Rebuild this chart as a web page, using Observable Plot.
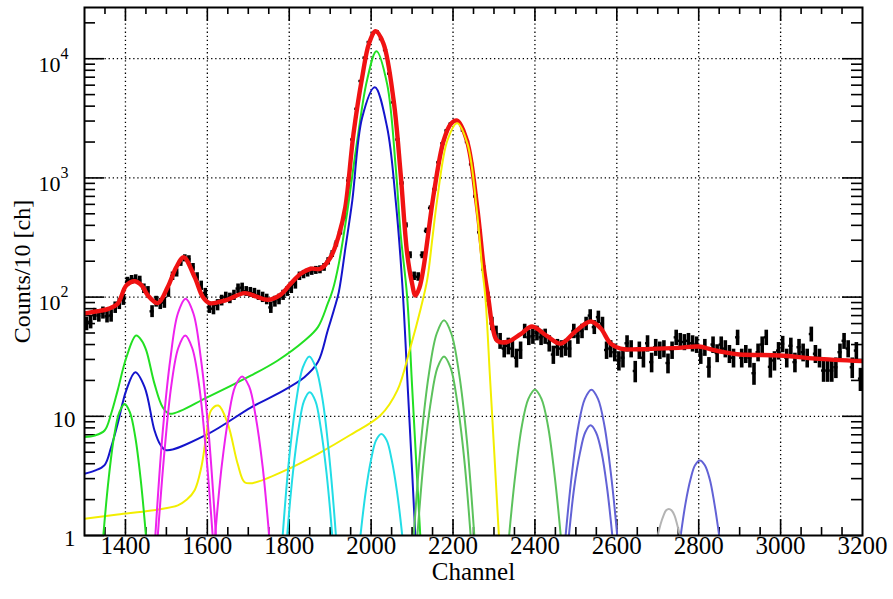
<!DOCTYPE html>
<html><head><meta charset="utf-8">
<script src="https://cdn.jsdelivr.net/npm/d3@7"></script>
<script src="https://cdn.jsdelivr.net/npm/@observablehq/plot@0.6"></script>
<style>body{margin:0;background:#fff;} svg text{font-family:"Liberation Serif","Times New Roman",serif !important;}</style>
</head><body><div id="chart"></div>
<script>
// ---- data: histogram (counts per 10 channels), first bin centre 1305
const binStart = 1305, binWidth = 10;
const counts = [
 60,62,72,70,74,69,70,82,88,95,
 135,140,142,138,118,112,76,92,88,90,
 110,150,160,195,212,208,178,148,125,108,
 82,80,86,94,100,98,104,118,120,112,
 110,108,104,100,96,82,92,96,104,112,
 118,128,150,155,160,165,168,170,178,200,
 230,280,350,470,950,2100,3800,6500,10200,13800,
 16200,16900,14600,11800,7500,4300,2100,900,400,225,
 150,148,225,360,560,800,1350,1950,2500,2850,
 3000,2900,2500,2000,1300,700,350,170,100,60,
 50,43,37,39,37,31,36,52,46,47,
 50,46,47,41,33,38,37,38,37,52,
 47,52,60,70,56,68,60,36,37,34.5,
 29.4,31,41,37,24,36,31,41,28.5,38,
 36,37,28,36,46,43,42,43,41,40,
 33,38,26,40,34,40,37,33.5,31,46,
 31,33.5,31,23,34.5,40,46,26,29.4,35.6,
 40.5,31,39,28.5,38,34.5,31,49,33.5,31,
 24.2,24.2,24.2,25.8,34.5,43,37,25.8,35.6,20.7
];

// ---- fitted curves [channel, value]
const redTotal = [[1300,73],[1320,75],[1340,77],[1360,80],[1381,88],[1402,125],[1422,136],[1440,125],[1455,103],[1479,89],[1503,121],[1524,178],[1542,216],[1569,147],[1589,100],[1605,89],[1642,93.5],[1691,108],[1720,101],[1748,95],[1779,105],[1803,129],[1828,157],[1852,173],[1876,173],[1901,216],[1921,329],[1937,568],[1957,2360],[1978,6950],[1995,13500],[2011,17000],[2030,13400],[2055,4450],[2072,1090],[2088,232],[2100,130],[2108,103],[2118,120],[2128,177],[2153,740],[2177,2050],[2195,2850],[2210,3030],[2234,2050],[2259,565],[2275,177],[2287,94],[2297,55],[2308,43],[2332,42],[2365,49],[2393,56.7],[2430,47],[2463,40.7],[2500,52],[2536,62.5],[2560,55],[2585,40.7],[2609,37],[2650,36.5],[2700,37],[2750,37.5],[2800,38.5],[2830,36.5],[2861,34.5],[2900,33],[2998,32.4],[3085,30.5],[3200,29]];
const greenTotal = [[1300,6.7],[1325,6.9],[1349,7.6],[1365,10.5],[1381,16.5],[1402,31],[1426,47.6],[1440,43],[1451,35.6],[1471,18.7],[1491,11.9],[1508,10.5],[1601,14.5],[1707,22],[1772,29.4],[1837,43],[1870,56],[1894,88],[1906,114],[1921,190],[1941,500],[1966,2050],[1990,6600],[2013,11560],[2039,6150],[2060,1230],[2072,340],[2088,100],[2100,18],[2110,4.2],[2120,1],[2124,0.6]];
const blueTotal = [[1300,3.3],[1325,3.5],[1349,3.9],[1365,5.5],[1381,8.65],[1402,16.5],[1424,23.4],[1447,17.5],[1471,7.6],[1485,5.8],[1499,5.2],[1601,7.1],[1707,11.9],[1772,15.5],[1837,21.3],[1870,28.5],[1894,52.5],[1910,80],[1921,110],[1938,270],[1954,646],[1978,3200],[2009,5760],[2039,2660],[2060,646],[2076,130],[2090,16],[2100,3.5],[2108,1],[2112,0.6]];
const yellowTotal = [[1300,1.38],[1381,1.5],[1463,1.62],[1528,1.79],[1550,2.0],[1569,2.4],[1585,3.7],[1597,6.7],[1609,11.2],[1627,12.3],[1650,8.65],[1674,4],[1691,2.8],[1710,2.75],[1789,3.5],[1870,4.85],[1950,7.0],[2023,10.2],[2064,16.5],[2096,38],[2121,80],[2137,140],[2150,320],[2161,646],[2186,2050],[2210,2880],[2235,1950],[2259,500],[2271,178],[2279,100],[2290,22],[2300,5.5],[2312,1],[2316,0.6]];
const greenPeak1398 = [[1341,0.59],[1346,1],[1359,3.0],[1372,6.7],[1385,10.8],[1398,12.7],[1411,10.8],[1424,6.7],[1437,3.0],[1450,1],[1455,0.59]];
const magentaOuter1547 = [[1466,0.38],[1473,1],[1491,7.4],[1510,30.9],[1528,72.9],[1547,97],[1566,72.9],[1584,30.9],[1603,7.4],[1621,1],[1628,0.38]];
const magentaInner1546 = [[1472,0.44],[1479,1],[1496,5.4],[1512,18.1],[1529,37.4],[1546,47.6],[1563,37.4],[1580,18.1],[1596,5.4],[1613,1],[1620,0.44]];
const magenta1685 = [[1612,0.52],[1619,1],[1635,3.8],[1652,10],[1668,17.8],[1685,21.6],[1702,17.8],[1718,10],[1735,3.8],[1751,1],[1758,0.52]];
const cyanOuter1849 = [[1778,0.48],[1784,1],[1800,4.5],[1817,13.4],[1833,25.6],[1849,31.8],[1865,25.6],[1882,13.4],[1898,4.5],[1914,1],[1920,0.48]];
const cyanInner1850 = [[1790,0.56],[1795,1],[1809,3.36],[1823,7.97],[1836,13.4],[1850,15.9],[1864,13.4],[1877,7.97],[1891,3.36],[1905,1],[1910,0.56]];
const cyan2025 = [[1969,0.66],[1974,1],[1987,2.36],[2000,4.35],[2012,6.28],[2025,7.1],[2038,6.28],[2050,4.35],[2063,2.36],[2076,1],[2081,0.66]];
const midGreenOuter2178 = [[2097,0.42],[2104,1],[2122,6.2],[2141,22.6],[2160,49.3],[2178,64],[2196,49.3],[2215,22.6],[2234,6.2],[2252,1],[2259,0.42]];
const midGreenInner2178 = [[2107,0.48],[2113,1],[2129,4.5],[2146,13.4],[2162,25.6],[2178,31.8],[2194,25.6],[2210,13.4],[2227,4.5],[2243,1],[2249,0.48]];
const midGreen2400 = [[2331,0.55],[2337,1],[2353,3.43],[2368,8.26],[2384,14.0],[2400,16.7],[2416,14.0],[2432,8.26],[2447,3.43],[2463,1],[2469,0.55]];
const slateOuter2538 = [[2469,0.55],[2475,1],[2491,3.43],[2506,8.26],[2522,14.0],[2538,16.7],[2554,14.0],[2570,8.26],[2585,3.43],[2601,1],[2607,0.55]];
const slateInner2536 = [[2478,0.64],[2483,1],[2496,2.54],[2510,4.93],[2523,7.35],[2536,8.4],[2549,7.35],[2563,4.93],[2576,2.54],[2589,1],[2594,0.64]];
const slate2803 = [[2751,0.74],[2756,1],[2768,1.88],[2780,2.96],[2791,3.89],[2803,4.26],[2815,3.89],[2827,2.96],[2838,1.88],[2850,1],[2855,0.74]];
const gray2727 = [[2697,0.9],[2700,1],[2707,1.25],[2714,1.47],[2720,1.62],[2727,1.67],[2734,1.62],[2741,1.47],[2747,1.25],[2754,1],[2757,0.9]];

// ---- axis ticks
const xLabelTicks = [1400,1600,1800,2000,2200,2400,2600,2800,3000,3200];
const yLabelPlain = [1,10];
const yLabelPow = [100,1000,10000];

// ---- build
const points = counts.map((v,i)=>({ch: binStart + i*binWidth, v}));
const xAll = d3.range(1350, 3200, 50);
const xMajor = xAll.filter(d => d % 200 === 0);
const xMinor = xAll.filter(d => d % 200 !== 0);
const yMajor = [1,10,100,1000,10000];
const yMinor = [];
for (const p of [1,10,100,1000,10000]) for (let m=2;m<=9;m++) if (m*p < 26900) yMinor.push(m*p);

const W=893,H=599,ML=84,MR=31,MT=7,MB=64;
const IH = H-MT-MB, IW = W-ML-MR;
const FONT = "Liberation Serif";

const curve = (arr, color, w=2) => Plot.line(arr, {x: d=>d[0], y: d=>d[1], stroke: color, strokeWidth: w, curve: "catmull-rom", clip: true});

const chart = Plot.plot({
  width: W, height: H, marginLeft: ML, marginRight: MR, marginTop: MT, marginBottom: MB,
  style: {background: "#fff", fontFamily: FONT, color: "#000"},
  x: {domain: [1300, 3200], axis: null},
  y: {type: "log", domain: [1, 26900], axis: null},
  marks: [
    Plot.gridX(xMajor, {stroke: "#000", strokeOpacity: 1, strokeWidth: 1.3, strokeDasharray: "1.3,2.8"}),
    Plot.gridY(yMajor.filter(d=>d>1), {stroke: "#000", strokeOpacity: 1, strokeWidth: 1.3, strokeDasharray: "1.3,2.8"}),
    // ticks (inside)
    Plot.tickX(xMajor, {x: d=>d, insetTop: IH-16, stroke: "#000", strokeWidth: 1.6}),
    Plot.tickX(xMinor, {x: d=>d, insetTop: IH-8, stroke: "#000", strokeWidth: 1.6}),
    Plot.tickX(xMajor, {x: d=>d, insetBottom: IH-14, stroke: "#000", strokeWidth: 1.6}),
    Plot.tickX(xMinor, {x: d=>d, insetBottom: IH-7, stroke: "#000", strokeWidth: 1.6}),
    Plot.tickY(yMajor, {y: d=>d, insetRight: IW-20, stroke: "#000", strokeWidth: 1.6}),
    Plot.tickY(yMinor, {y: d=>d, insetRight: IW-11, stroke: "#000", strokeWidth: 1.6}),
    Plot.tickY(yMajor, {y: d=>d, insetLeft: IW-20, stroke: "#000", strokeWidth: 1.6}),
    Plot.tickY(yMinor, {y: d=>d, insetLeft: IW-11, stroke: "#000", strokeWidth: 1.6}),
    // data with errors
    Plot.ruleX(points, {x: "ch", y1: d=>d.v-Math.sqrt(d.v), y2: d=>d.v+Math.sqrt(d.v), stroke: "#000", strokeWidth: 3.6, clip: true}),
    Plot.ruleY(points, {y: "v", x1: d=>d.ch-5, x2: d=>d.ch+5, stroke: "#000", strokeWidth: 2.4, clip: true}),
    // total fit
    curve(redTotal, "#f01212", 4.4),
    // components
    curve(greenTotal, "#22e022"),
    curve(blueTotal, "#1414cc"),
    curve(yellowTotal, "#f2ee00"),
    curve(greenPeak1398, "#22e022"),
    curve(magentaOuter1547, "#ee22ee"),
    curve(magentaInner1546, "#ee22ee"),
    curve(magenta1685, "#ee22ee"),
    curve(cyanOuter1849, "#22dde6"),
    curve(cyanInner1850, "#22dde6"),
    curve(cyan2025, "#22dde6"),
    curve(midGreenOuter2178, "#5cc25c"),
    curve(midGreenInner2178, "#5cc25c"),
    curve(midGreen2400, "#5cc25c"),
    curve(slateOuter2538, "#6262d6"),
    curve(slateInner2536, "#6262d6"),
    curve(slate2803, "#6262d6"),
    curve(gray2727, "#b4b4b4"),
    Plot.frame({stroke: "#000", strokeWidth: 2}),
    // tick labels
    Plot.text(xLabelTicks, {x: d=>d, frameAnchor: "bottom", dy: 18, text: d=>String(d), fontSize: 25, fontFamily: FONT, textAnchor: "middle"}),
    Plot.text(yLabelPlain, {y: d=>d, frameAnchor: "left", dx: -9, dy: 3, text: d=>String(d), fontSize: 23, fontFamily: FONT, textAnchor: "end"}),
    Plot.text(yLabelPow, {y: d=>d, frameAnchor: "left", dx: -24, dy: 6, text: ()=>"10", fontSize: 22, fontFamily: FONT, textAnchor: "end"}),
    Plot.text(yLabelPow, {y: d=>d, frameAnchor: "left", dx: -24, dy: -5, text: d=>String(Math.round(Math.log10(d))), fontSize: 16, fontFamily: FONT, textAnchor: "start"}),
    // axis titles
    Plot.text(["Channel"], {frameAnchor: "bottom", dy: 44, fontSize: 25, fontFamily: FONT, textAnchor: "middle"}),
    Plot.text(["Counts/10 [ch]"], {frameAnchor: "left", dx: -62, rotate: -90, fontSize: 24, fontFamily: FONT, textAnchor: "middle"})
  ]
});
document.getElementById("chart").appendChild(chart);
</script>
</body></html>
